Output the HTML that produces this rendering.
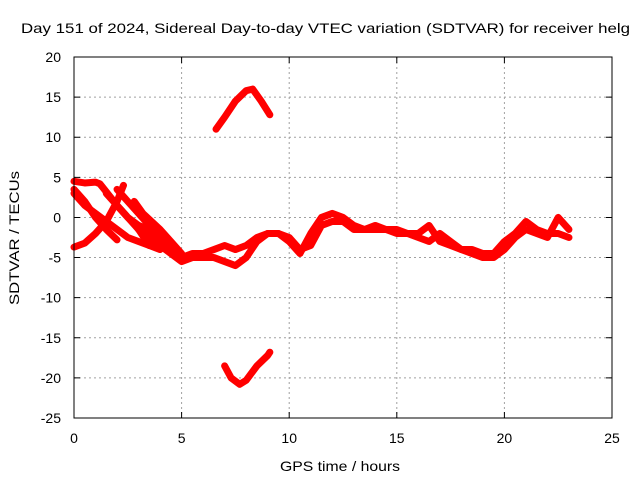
<!DOCTYPE html>
<html><head><meta charset="utf-8"><style>
body{margin:0;background:#fff}
svg text{font-family:"Liberation Sans",sans-serif;font-size:14px;fill:#000}
</style></head><body>
<svg id="chart" width="640" height="480" xmlns="http://www.w3.org/2000/svg">
<text x="21" y="33" textLength="609" lengthAdjust="spacingAndGlyphs">Day 151 of 2024, Sidereal Day-to-day VTEC variation (SDTVAR) for receiver helg</text>
<text x="340" y="471" text-anchor="middle" textLength="120" lengthAdjust="spacingAndGlyphs">GPS time / hours</text>
<text transform="translate(19,238) rotate(-90)" text-anchor="middle" textLength="134" lengthAdjust="spacingAndGlyphs">SDTVAR / TECUs</text>
<g id="grid"></g><g id="marks"></g><g id="axes"></g>
</svg>
<script>
const xTicks=[0,5,10,15,20,25];
const yTicks=[20,15,10,5,0,-5,-10,-15,-20,-25];
const tA=[0,0.5,1,1.5,2,2.3];
const vA=[-3.7,-3.2,-2,-0.5,2,4];
const tB=[0,0.5,1,1.2,1.5,2,2.5,3,3.5];
const vB=[4.5,4.3,4.4,4.2,3.2,1.5,0,-1.5,-3.5];
const tC=[0,0.5,1,1.5,2];
const vC=[3.5,2,0,-1.5,-2.8];
const tD=[0,0.5,1,1.5,2,2.5,3,3.5,4];
const vD=[3,1.5,0.5,-0.5,-1.5,-2.5,-3,-3.5,-4];
const tI=[1.5,2,2.5,3,3.5,4,4.5,5];
const vI=[3,1.5,0,-1,-1.5,-2.5,-4,-5];
const tJ=[2.8,3.2,3.6,4,4.5,5];
const vJ=[2,0.5,-0.5,-1.5,-3,-4.5];
const tE=[2,2.5,3,3.5,4,4.5,5,5.5,6,6.5,7,7.5,8,8.5,9,9.5,10,10.5,11,11.5,12,12.5,13,13.5,14,14.5,15,15.5,16,16.5,17,17.5,18,18.5,19,19.5,20,20.5,21,21.5,22,22.5,23];
const vE=[3.5,2,0.5,-1,-2,-3.5,-5,-4.5,-4.5,-4,-3.5,-4,-3.5,-2.5,-2,-2,-3,-4.5,-2,0,0.5,0,-1,-1.5,-1,-1.5,-2,-2,-2,-1,-3,-3.5,-4,-4,-4.5,-4.5,-3,-2,-0.5,-1.5,-2,-2,-2.5];
const tF=[3,3.5,4,4.5,5,5.5,6,6.5,7,7.5,8,8.5,9,9.5,10,10.5,11,11.5,12,12.5,13,13.5,14,14.5,15,15.5,16,16.5,17,17.5,18,18.5,19,19.5,20,20.5,21,21.5,22,22.5,23];
const vF=[-1.5,-2.5,-3.5,-4.5,-5.5,-5,-5,-5,-5.5,-6,-5,-3,-2,-2,-2.5,-4,-3.5,-1,-0.5,-0.5,-1.5,-1.5,-1.5,-1.5,-1.5,-2,-2.5,-3,-2,-3,-4,-4.5,-5,-5,-4,-2.5,-1.5,-2,-2.5,0,-1.5];
const tG=[6.6,7,7.5,8,8.3,8.7,9.1];
const vG=[11,12.5,14.5,15.8,16,14.5,12.8];
const tH=[7,7.3,7.7,8,8.5,9,9.1];
const vH=[-18.5,-20,-20.8,-20.3,-18.5,-17.2,-16.8];
const series=[[tA,vA],[tB,vB],[tC,vC],[tD,vD],[tI,vI],[tJ,vJ],[tE,vE],[tF,vF],[tG,vG],[tH,vH]];
const X0=74,X1=612,Y0=57,Y1=418;
const xs=t=>X0+(t-0)/(25-0)*(X1-X0);
const ys=v=>Y0+(20-v)/(20-(-25))*(Y1-Y0);
const NS="http://www.w3.org/2000/svg";
function mk(tag,attrs,parent){const e=document.createElementNS(NS,tag);for(const k in attrs)e.setAttribute(k,attrs[k]);parent.appendChild(e);return e;}
const grid=document.getElementById('grid'),marks=document.getElementById('marks'),axes=document.getElementById('axes');
xTicks.forEach(t=>{
 if(t>0&&t<25){const g=mk('line',{x1:xs(t),x2:xs(t),y1:Y0,y2:Y1,stroke:'#a0a0a0','stroke-dasharray':'2,3'},grid);
 
 }
 const tk=mk('path',{d:`M${xs(t)},${Y1}v-6M${xs(t)},${Y0}v6`,stroke:'#000'},axes);
 
 
 const l=mk('text',{x:xs(t),y:443,'text-anchor':'middle'},axes);l.textContent=t;
 
 
});
yTicks.forEach(v=>{
 if(v<20&&v>-25){const g=mk('line',{x1:X0,x2:X1,y1:ys(v),y2:ys(v),stroke:'#a0a0a0','stroke-dasharray':'2,3'},grid);
 
 }
 const tk=mk('path',{d:`M${X0},${ys(v)}h6M${X1},${ys(v)}h-6`,stroke:'#000'},axes);
 
 
 const l=mk('text',{x:61,y:ys(v)+5,'text-anchor':'end'},axes);l.textContent=v;
 
 
});
const fr=mk('rect',{x:X0,y:Y0,width:X1-X0,height:Y1-Y0,fill:'none',stroke:'#000'},axes);


series.forEach(([t,v])=>{
 const p=mk('polyline',{points:t.map((ti,i)=>xs(ti)+','+ys(v[i])).join(' '),fill:'none',stroke:'#ff0000','stroke-width':7,'stroke-linejoin':'round','stroke-linecap':'round'},marks);
 
 
});
</script>
</body></html>
